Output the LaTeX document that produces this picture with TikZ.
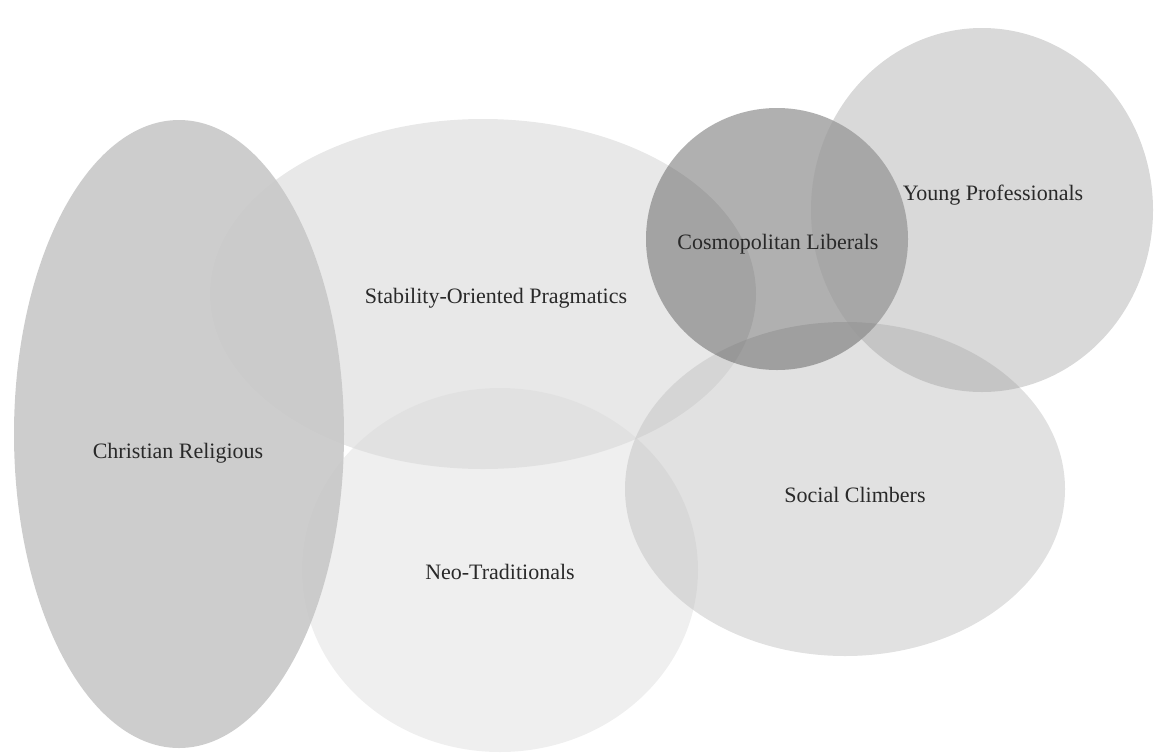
\documentclass[tikz,border=0pt]{standalone}
\usepackage{fontspec}
\usepackage{xcolor}
\setmainfont{Liberation Serif}
\usetikzlibrary{shapes.geometric}

\definecolor{stabgray}{gray}{0.784}
\definecolor{neogray}{gray}{0.855}
\definecolor{christgray}{gray}{0.784}
\definecolor{socialgray}{gray}{0.773}
\definecolor{cosmogray}{gray}{0.289}
\definecolor{younggray}{gray}{0.592}
\definecolor{labelgray}{gray}{0.16}

\tikzset{
  blob/.style={ellipse,inner sep=0pt,draw=none},
  grouplabel/.style={text=labelgray,font=\fontsize{22}{26}\selectfont,inner sep=0pt}
}

\begin{document}
\begin{tikzpicture}[x=1pt,y=-1pt]
\useasboundingbox (0,0) rectangle (1156,753);
\draw (483,294) node[blob,minimum width=546pt,minimum height=350pt,fill=stabgray,fill opacity=0.42](stab) {};
\draw (500,570) node[blob,minimum width=396pt,minimum height=364pt,fill=neogray,fill opacity=0.435](neo) {};
\draw (179,434) node[blob,minimum width=330pt,minimum height=628pt,fill=christgray,fill opacity=0.9](christ) {};
\draw (845,489) node[blob,minimum width=440pt,minimum height=334pt,fill=socialgray,fill opacity=0.52](social) {};
\draw (777,239) node[blob,minimum width=262pt,minimum height=262pt,fill=cosmogray,fill opacity=0.435](cosmo) {};
\draw (982,210) node[blob,minimum width=342pt,minimum height=364pt,fill=younggray,fill opacity=0.367](young) {};
\draw (178,453) node[grouplabel](christlabel) {Christian Religious};
\draw (496,298) node[grouplabel](stablabel) {Stability-Oriented Pragmatics};
\draw (778,244) node[grouplabel](cosmolabel) {Cosmopolitan Liberals};
\draw (993,195) node[grouplabel](younglabel) {Young Professionals};
\draw (855,495) node[grouplabel](sociallabel) {Social Climbers};
\draw (500,572) node[grouplabel](neolabel) {Neo-Traditionals};
\end{tikzpicture}
\end{document}
